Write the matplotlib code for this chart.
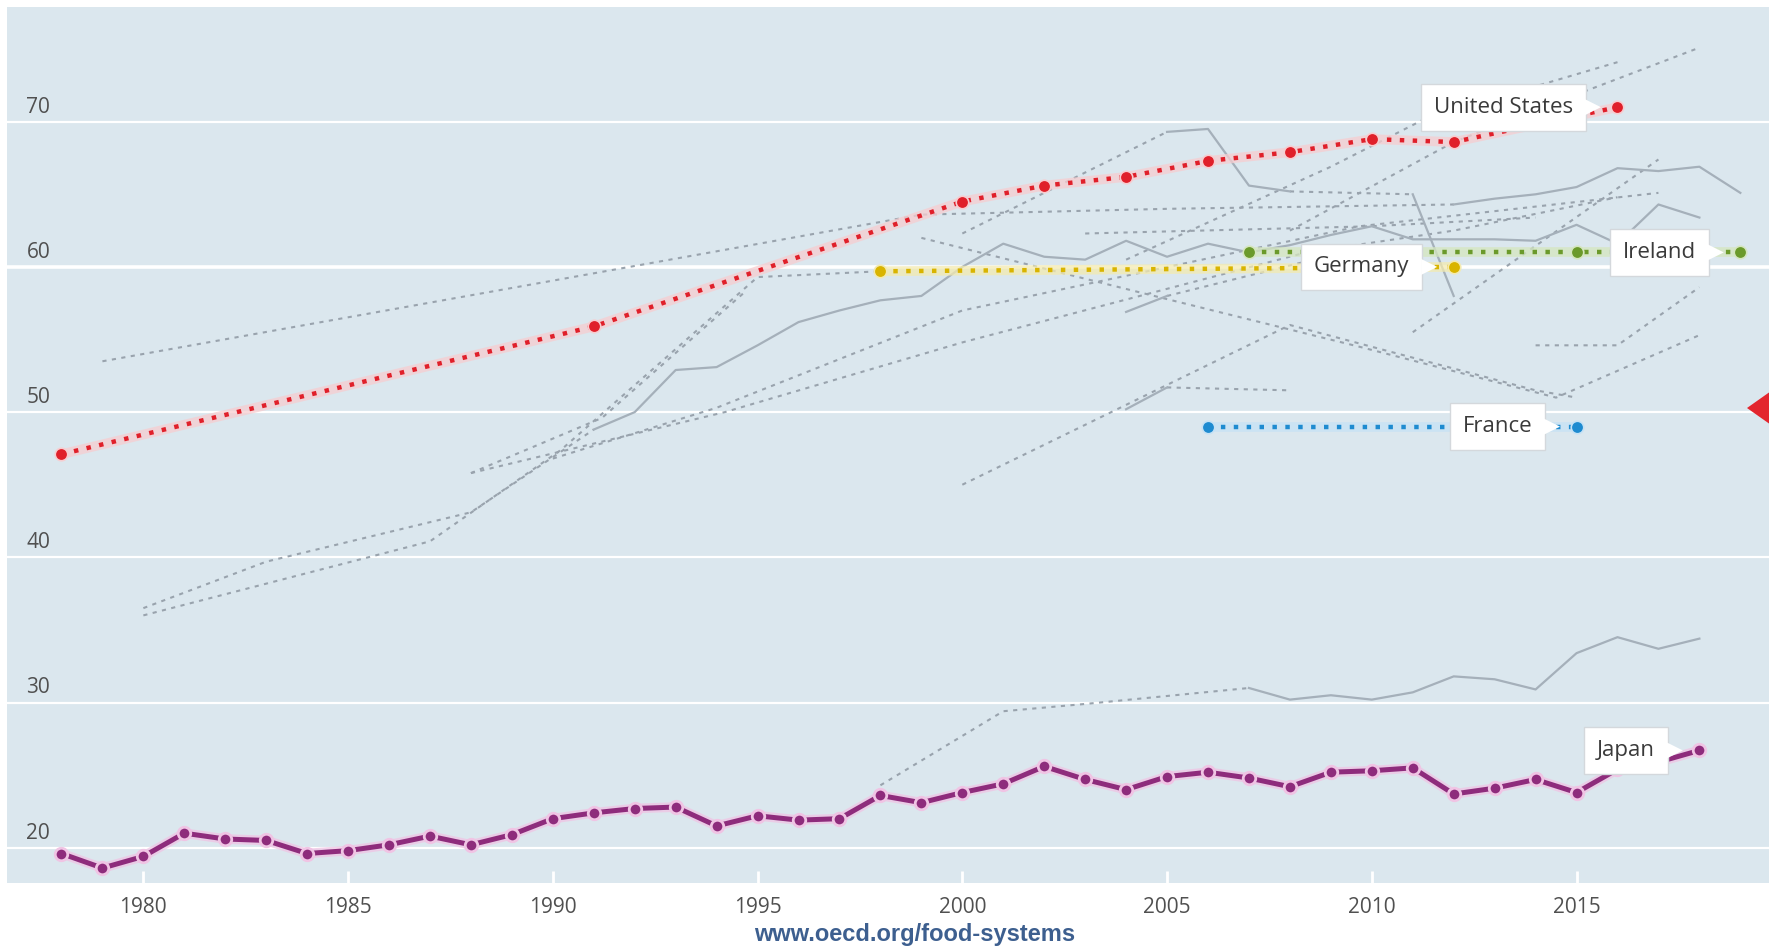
import matplotlib
matplotlib.use("Agg")
import matplotlib.pyplot as plt
from matplotlib.patches import Polygon
from matplotlib.transforms import IdentityTransform, blended_transform_factory

plt.rcParams['font.family'] = ['Open Sans', 'DejaVu Sans']

# highlighted countries
us_years = [1978, 1991, 2000, 2002, 2004, 2006, 2008, 2010, 2012, 2016]
us_vals = [47.1, 55.9, 64.5, 65.6, 66.2, 67.3, 67.9, 68.8, 68.6, 71.0]
de_years = [1998, 2012]
de_vals = [59.7, 60.0]
ie_years = [2007, 2015, 2019]
ie_vals = [61.0, 61.0, 61.0]
fr_years = [2006, 2015]
fr_vals = [49.0, 49.0]
jp_years = list(range(1978, 2019))
jp_vals = [19.6, 18.6, 19.4, 21.0, 20.6, 20.5, 19.6, 19.8, 20.2, 20.8,
           20.2, 20.9, 22.0, 22.4, 22.7, 22.8, 21.5, 22.2, 21.9, 22.0,
           23.6, 23.1, 23.8, 24.4, 25.6, 24.7, 24.0, 24.9, 25.2, 24.8,
           24.2, 25.2, 25.3, 25.5, 23.7, 24.1, 24.7, 23.8, 25.4, 25.9, 26.7]

# other countries, grey: dashed = gaps between surveys, solid = yearly data
o1_dash = ([1979, 1999, 2005, 2012], [53.5, 63.6, 64.0, 64.3])
o1_solid = ([2012, 2013, 2014, 2015, 2016, 2017, 2018, 2019],
            [64.3, 64.7, 65.0, 65.5, 66.8, 66.6, 66.9, 65.1])
o2_dash1 = ([2000, 2005], [62.3, 69.3])
o2_solid1 = ([2005, 2006, 2007, 2008], [69.3, 69.5, 65.6, 65.2])
o2_dash2 = ([2008, 2011], [65.2, 65.0])
o2_solid2 = ([2011, 2012], [65.0, 58.0])
o3_dash = ([1980, 1983, 1988, 1991], [36.5, 39.7, 43.1, 48.8])
o3_solid = (list(range(1991, 2019)),
            [48.8, 50.0, 52.9, 53.1, 54.6, 56.2, 57.0, 57.7, 58.0, 60.0,
             61.6, 60.7, 60.5, 61.8, 60.7, 61.6, 61.0, 61.5, 62.2, 62.8,
             61.9, 61.9, 61.9, 61.8, 62.9, 61.6, 64.3, 63.4])
o4_dash = ([1980, 1987, 1990.2, 1995, 1998], [36.0, 41.1, 47.4, 59.3, 59.7])
o5_dash = ([1988, 1991.2, 1994.7], [45.8, 49.6, 58.3])
o6_dash = ([1990, 1994, 2000, 2009.7, 2017], [46.8, 50.3, 57.0, 62.8, 65.1])
o7_dash = ([1988, 1994.2, 2000, 2008.4, 2012, 2016], [45.8, 50.0, 54.8, 61.0, 62.5, 64.8])
o8_dash = ([2004, 2009, 2011.3, 2016], [60.5, 66.9, 70.2, 74.1])
o9_dash = ([2008, 2012, 2015.3, 2018], [62.5, 68.6, 72.2, 75.1])
o10_dash = ([1999, 2004.4, 2009.7, 2014.5, 2018], [62.0, 58.2, 54.5, 51.0, 55.3])
o11_dash = ([2000, 2008, 2014, 2015], [45.0, 56.0, 51.5, 51.0])
o12_solid = ([2004, 2005], [50.2, 51.7])
o12_dash = ([2005, 2008], [51.7, 51.5])
o13_solid = ([2004, 2005], [56.9, 58.0])
o13_dash = ([2005, 2010], [58.0, 61.5])
o14_dash = ([2011, 2017], [55.5, 67.4])
o15_dash = ([2014, 2016, 2018], [54.6, 54.6, 58.6])
o16_dash = ([2003, 2010, 2014], [62.3, 62.8, 63.4])
o17_dash = ([1998, 2001, 2003, 2007], [24.3, 29.4, 29.9, 31.0])
o17_solid = (list(range(2007, 2019)),
             [31.0, 30.2, 30.5, 30.2, 30.7, 31.8, 31.6, 30.9, 33.4, 34.5, 33.7, 34.4])

grey_dashed = [o1_dash, o2_dash1, o2_dash2, o3_dash, o4_dash, o5_dash, o6_dash,
               o7_dash, o8_dash, o9_dash, o10_dash, o11_dash, o12_dash, o13_dash,
               o14_dash, o15_dash, o16_dash, o17_dash]
grey_solid = [o1_solid, o2_solid1, o2_solid2, o3_solid, o12_solid, o13_solid, o17_solid]

yticks = [20, 30, 40, 50, 60, 70]
xticks = [1980, 1985, 1990, 1995, 2000, 2005, 2010, 2015]

bg = '#dbe7ee'
fig = plt.figure(figsize=(17.69, 9.5), dpi=100)
ax = fig.add_axes([7 / 1769, 67 / 950, 1 - 7 / 1769, 876 / 950])
ax.set_facecolor(bg)
ax.set_xlim(1976.67, 2019.7)
ax.set_ylim(17.57, 77.9)
for s in ax.spines.values():
    s.set_visible(False)

for v in yticks:
    ax.axhline(v, color='white', lw=2.6 if v == 60 else 1.6, zorder=1)
trans = blended_transform_factory(ax.transAxes, ax.transData)
for v in yticks:
    ax.text(0.011, v + 1.0, str(v), transform=trans, fontsize=15,
            color='#505050', va='center', ha='left', zorder=2)
ax.set_yticks([])
ax.set_xticks(xticks)
ax.set_xticklabels([str(x) for x in xticks])
ax.tick_params(axis='x', direction='in', length=9, width=2, color='white',
               labelsize=15, labelcolor='#505050', pad=10)

for xs, ys in grey_dashed:
    ax.plot(xs, ys, color='#99a3ad', lw=1.5, ls=(0, (2, 2.6)), zorder=3)
for xs, ys in grey_solid:
    ax.plot(xs, ys, color='#a5b0ba', lw=1.6, zorder=3)


def highlight(xs, ys, col, halo, dotted=True):
    ax.plot(xs, ys, color=halo, lw=7, alpha=0.75, solid_capstyle='round', zorder=4)
    if dotted:
        ax.plot(xs, ys, color=col, lw=3.2, ls=(0, (1, 1.9)), zorder=5)
    else:
        ax.plot(xs, ys, color=col, lw=3.6, zorder=5)
    ax.plot(xs, ys, ls='none', marker='o', ms=9, mfc=col, mec=halo,
            mew=1.2 if dotted else 2.0, zorder=6)


highlight(us_years, us_vals, '#e0202a', '#f7cdd0')
highlight(de_years, de_vals, '#d9b400', '#f3eab0')
highlight(ie_years, ie_vals, '#6b9a2b', '#d5e6bf')
highlight(fr_years, fr_vals, '#1e8bd0', '#c6e2f5')
highlight(jp_years, jp_vals, '#8e2c7c', '#f0c4e4', dotted=False)

labels = [('United States', us_years[-1], us_vals[-1]),
          ('Germany', de_years[-1], de_vals[-1]),
          ('Ireland', ie_years[-1], ie_vals[-1]),
          ('France', fr_years[-1], fr_vals[-1]),
          ('Japan', jp_years[-1], jp_vals[-1])]
texts = []
for name, x, y in labels:
    t = ax.annotate(name, xy=(x, y), xytext=(-32, 0), textcoords='offset points',
                    ha='right', va='center', fontsize=16, color='#3a3a3a', zorder=10,
                    bbox=dict(boxstyle='square,pad=0.58', fc='white', ec='#d4d8dc', lw=1))
    texts.append(t)

fig.canvas.draw()
renderer = fig.canvas.get_renderer()
for t in texts:
    bb = t.get_bbox_patch().get_window_extent(renderer)
    yc = (bb.y0 + bb.y1) / 2
    tri = Polygon([(bb.x1 - 1, yc + 8), (bb.x1 + 15, yc), (bb.x1 - 1, yc - 8)],
                  closed=True, fc='white', ec='none', transform=IdentityTransform(), zorder=11)
    ax.add_artist(tri)

# navigation arrow cut at the right edge
fig.patches.append(Polygon([(1747 / 1769, 1 - 408 / 950), (1.01, 1 - 380 / 950),
                            (1.01, 1 - 436 / 950)], closed=True, fc='#e3262e', ec='none',
                           transform=fig.transFigure))
fig.text(0.517, 0.004, 'www.oecd.org/food-systems', ha='center', va='bottom',
         fontsize=17, fontweight='bold', color='#3d5f8f', family='Liberation Sans')

fig.savefig('out.png', dpi=100, facecolor='white')
